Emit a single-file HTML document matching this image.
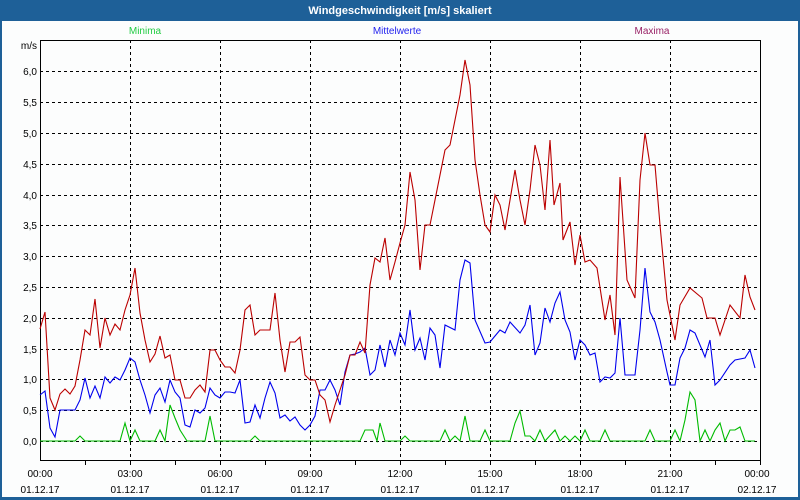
<!DOCTYPE html>
<html><head><meta charset="utf-8"><style>
body{margin:0;background:#fff}
svg{display:block;font-family:"Liberation Sans",sans-serif}
</style></head><body>
<svg width="800" height="500" xmlns="http://www.w3.org/2000/svg">
<rect x="0" y="0" width="800" height="500" fill="#1e6098"/>
<rect x="2" y="21" width="796" height="476" fill="#fcfdfd"/>
<text x="400" y="14" fill="#fff" font-size="11" font-weight="bold" text-anchor="middle">Windgeschwindigkeit [m/s] skaliert</text>
<text x="145" y="34" fill="#22cc44" font-size="10" text-anchor="middle">Minima</text>
<text x="397" y="34" fill="#2222ee" font-size="10" text-anchor="middle">Mittelwerte</text>
<text x="652" y="34" fill="#992266" font-size="10" text-anchor="middle">Maxima</text>
<g stroke="#000" stroke-width="1" stroke-dasharray="3,3" fill="none">
<path d="M40 71.5H760M40 102.5H760M40 133.5H760M40 164.5H760M40 195.5H760M40 225.5H760M40 256.5H760M40 287.5H760M40 318.5H760M40 349.5H760M40 379.5H760M40 410.5H760M40 441.5H760"/>
<path d="M130.5 40V460M220.5 40V460M310.5 40V460M400.5 40V460M490.5 40V460M580.5 40V460M670.5 40V460"/>
</g>
<g stroke="#000" stroke-width="1" fill="none">
<path d="M40.5 40V460.5H760.5V40M40 40.5H760"/>
<path d="M85.5 460v5M130.5 460v5M175.5 460v5M220.5 460v5M265.5 460v5M310.5 460v5M355.5 460v5M400.5 460v5M445.5 460v5M490.5 460v5M535.5 460v5M580.5 460v5M625.5 460v5M670.5 460v5M715.5 460v5M760.5 460v5"/>
</g>
<g font-size="10" fill="#000" text-anchor="end">
<text x="37" y="49">m/s</text>
<text x="37" y="75">6,0</text><text x="37" y="106">5,5</text><text x="37" y="137">5,0</text><text x="37" y="168">4,5</text><text x="37" y="199">4,0</text><text x="37" y="229">3,5</text><text x="37" y="260">3,0</text><text x="37" y="291">2,5</text><text x="37" y="322">2,0</text><text x="37" y="353">1,5</text><text x="37" y="383">1,0</text><text x="37" y="414">0,5</text><text x="37" y="445">0,0</text>
</g>
<g font-size="10" fill="#000" text-anchor="middle">
<text x="40" y="477">00:00</text><text x="130" y="477">03:00</text><text x="220" y="477">06:00</text><text x="310" y="477">09:00</text><text x="400" y="477">12:00</text><text x="490" y="477">15:00</text><text x="580" y="477">18:00</text><text x="670" y="477">21:00</text><text x="757" y="477">00:00</text>
<text x="40" y="493">01.12.17</text><text x="130" y="493">01.12.17</text><text x="220" y="493">01.12.17</text><text x="310" y="493">01.12.17</text><text x="400" y="493">01.12.17</text><text x="490" y="493">01.12.17</text><text x="580" y="493">01.12.17</text><text x="670" y="493">01.12.17</text><text x="757" y="493">02.12.17</text>
</g>
<g fill="none" stroke-width="1.1">
<polyline stroke="#00bb00" points="40,441 75,441 80,436 85,441 120,441 125,423 130,441 135,430 140,441 155,441 160,430 165,441 170,405 175,418 180,430 187,441 205,441 210,416 215,441 250,441 255,436 260,441 360,441 365,430 373,430 377,441 380,423 385,441 400,441 405,436 410,441 440,441 445,430 450,441 455,436 460,441 465,416 470,441 480,441 485,430 490,441 510,441 515,423 520,411 525,436 530,436 535,441 540,430 545,441 555,430 560,441 565,436 570,441 575,436 580,441 585,430 590,441 600,441 605,430 610,441 645,441 650,430 655,441 670,441 675,430 680,441 685,420 690,392 695,400 700,441 705,430 710,441 715,430 720,423 725,441 730,430 735,430 740,427 745,441 755,441"/>
<polyline stroke="#0000ee" points="40,395 45,391 50,428 55,437 60,410 65,410 70,410 75,410 80,400 85,378 90,398 95,386 100,398 105,377 110,383 115,377 120,380 125,370 130,358 135,362 140,380 145,395 150,413 155,395 160,388 165,402 170,380 175,392 180,398 185,425 190,427 195,410 200,413 205,408 210,388 215,395 220,398 225,392 230,392 235,393 240,380 245,423 250,422 255,405 260,418 265,398 270,382 275,393 280,418 285,415 290,421 295,417 300,425 305,430 310,425 315,416 320,390 325,390 330,380 335,390 340,405 345,372 350,355 355,354 360,352 365,348 370,375 375,370 380,345 385,367 390,340 395,355 400,333 405,345 410,310 415,350 420,338 425,360 430,328 435,335 440,368 445,325 455,330 460,280 465,260 470,263 475,320 485,343 490,342 500,330 505,333 510,322 520,333 525,325 530,305 535,355 540,343 545,308 550,322 555,303 560,292 565,320 570,332 575,360 580,340 585,345 590,355 595,353 600,382 605,377 610,378 615,373 620,318 625,375 635,375 640,330 645,268 650,312 655,322 660,340 667,372 670,385 675,385 680,358 685,348 690,330 695,333 705,357 710,340 715,385 720,380 730,365 735,360 745,358 750,350 755,368"/>
<polyline stroke="#bb0000" points="40,329 45,312 50,398 55,410 60,394 65,389 70,394 75,386 80,360 85,330 90,335 95,299 100,348 105,318 110,335 115,324 120,330 125,310 130,295 135,268 140,313 145,340 150,362 155,354 160,336 165,358 170,355 175,380 180,380 185,398 190,398 195,390 200,385 205,392 210,350 215,350 220,360 225,367 230,367 235,373 240,350 245,310 250,305 255,335 260,330 265,330 270,330 275,293 280,340 285,372 290,342 295,342 300,337 305,375 310,380 315,380 320,395 325,400 330,422 335,405 340,390 345,375 350,355 355,355 360,342 365,353 370,285 375,258 380,262 385,238 390,280 395,262 400,243 405,225 410,172 415,200 420,270 425,225 430,225 435,200 440,175 445,150 450,145 455,120 460,95 465,60 470,85 475,160 480,195 485,225 490,232 495,195 500,205 505,230 510,200 515,170 520,200 525,225 530,190 535,145 540,165 545,210 550,140 554,205 560,183 563,240 570,222 575,265 580,235 585,262 590,260 597,268 605,320 610,295 615,335 620,177 627,280 635,298 640,180 645,133 650,165 655,165 660,225 667,300 675,340 680,305 690,288 702,298 707,318 715,318 720,335 730,305 740,318 745,275 750,297 755,310"/>
</g>
</svg>
</body></html>
